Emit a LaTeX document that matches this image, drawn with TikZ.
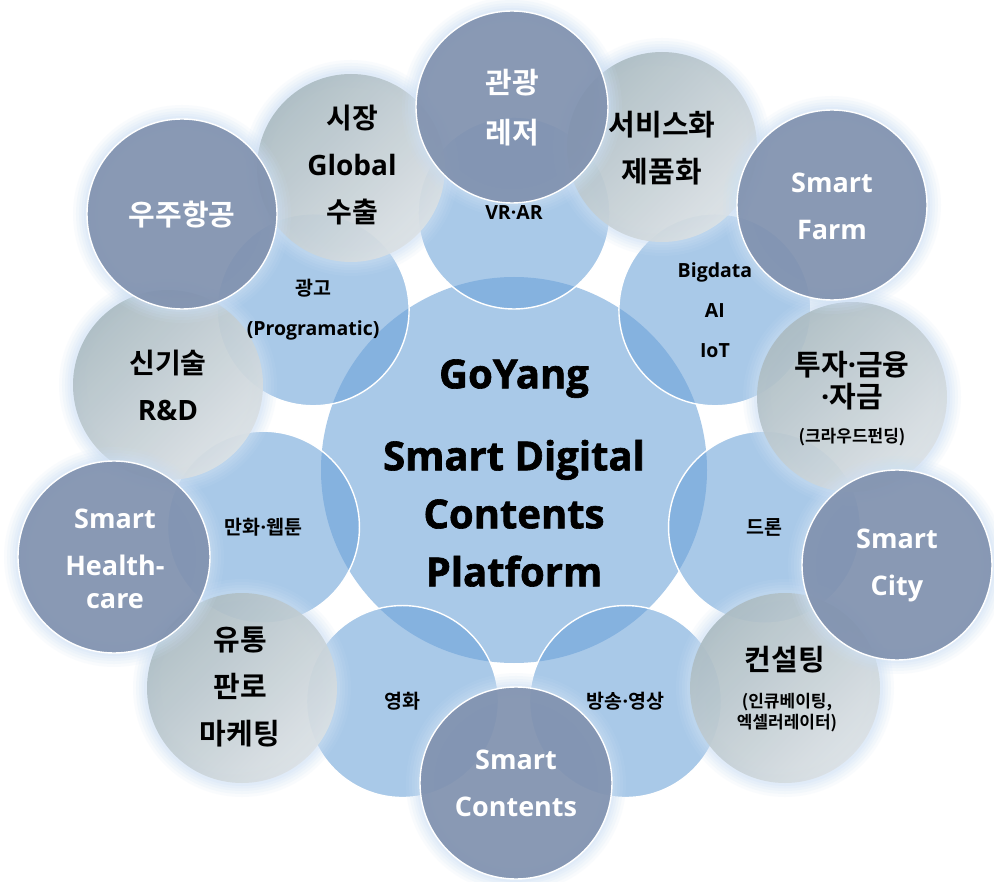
\documentclass[tikz,border=0pt]{standalone}
\usepackage{fontspec}
\setmainfont{Open Sans}
\newfontfamily\kr{Noto Sans CJK KR}[BoldFont={Noto Sans CJK KR Bold}]
\newfontfamily\heavy{Open Sans}[BoldFeatures={FakeBold=1.6}]
\newcommand\midpt{{\rmfamily\bfseries ·}}
\usetikzlibrary{calc}
\definecolor{hubblue}{RGB}{107,162,217}
\definecolor{slate}{RGB}{129,146,175}
\definecolor{mistdark}{RGB}{172,188,195}
\definecolor{mistlight}{RGB}{219,225,229}
\definecolor{halo}{RGB}{205,224,245}

\begin{document}
\begin{tikzpicture}[x=1pt,y=-1pt,
  glow/.style={preaction={draw=halo,draw opacity=.10,line width=28pt},
    preaction={draw=halo,draw opacity=.14,line width=22pt},
    preaction={draw=halo,draw opacity=.16,line width=16pt},
    preaction={draw=halo,draw opacity=.18,line width=11pt},
    preaction={draw=halo,draw opacity=.22,line width=6pt}},
  hub/.style={circle,inner sep=0pt,minimum size=386pt,fill=hubblue,fill opacity=.58},
  spoke/.style={circle,inner sep=0pt,minimum size=192pt,fill=hubblue,fill opacity=.58,
    draw=white,line width=1.4pt},
  mist/.style={circle,inner sep=0pt,glow,top color=mistdark,bottom color=mistlight,
    shading angle=45,fill opacity=.93},
  slatecircle/.style={circle,inner sep=0pt,glow,fill=slate,fill opacity=.93,
    draw=white,line width=1.4pt},
  hubtext/.style={align=center,font=\heavy\fontsize{40}{58}\selectfont\bfseries},
  spoketext/.style={align=center,font=\fontsize{19.5}{40}\selectfont\bfseries},
  mistext/.style={align=center,font=\fontsize{28}{47}\selectfont\bfseries},
  krmist/.style={mistext,font=\kr\fontsize{29}{47}\selectfont\bfseries},
  notetext/.style={align=center,font=\kr\fontsize{17}{21}\selectfont\bfseries},
  slatetext/.style={align=center,text=white,font=\fontsize{27}{47}\selectfont\bfseries},
  krslate/.style={slatetext,font=\kr\fontsize{29}{50}\selectfont\bfseries}]
  \fill[white] (0,0) rectangle (994,882);
  \useasboundingbox (0,0) rectangle (994,882);

  \node[hub] (hub) at (514,470) {};
  \foreach \name [count=\i from 0] in {vrar,bigdata,drone,broadcast,movie,webtoon,advert}
    \node[spoke] (\name) at ($(hub)+({90-\i*360/7}:257pt)$) {};

  \foreach \name/\px/\py/\r in {market/351/168/94,service/662/147/95,finance/852/397/95,
      consult/785/688/95,retail/242/688/95,rnd/168/385/95}
    \node[mist,minimum size=2*\r*1pt] (\name) at (\px,\py) {};
  \foreach \name/\px/\py/\r in {tour/512/107/96,farm/832/205/95,city/897/565/95,
      contents/516/783/96,health/114/557/96,space/182/214/95}
    \node[slatecircle,minimum size=2*\r*1pt] (\name) at (\px,\py) {};

  \node[hubtext] (title) at ($(hub)+(0,-3pt)$)
    {GoYang\\[24pt]Smart Digital\\Contents\\Platform};

  \foreach \name/\entry in {vrar/{VR·AR},bigdata/{Bigdata\\AI\\IoT},drone/{\kr 드론},
      broadcast/{{\kr 방송}\midpt{\kr 영상}},movie/{\kr 영화},
      webtoon/{{\kr 만화}\midpt{\kr 웹툰}},advert/{{\kr 광고}\\(Programatic)}}
    \node[spoketext] (\name-label) at (\name) {\entry};

  \node[mistext] (market-label) at (352,165) {{\kr 시장}\\Global\\{\kr 수출}};
  \node[krmist] (service-label) at (662,148) {서비스화\\제품화};
  \node[krmist,font=\kr\fontsize{29}{32}\selectfont\bfseries] (finance-label) at (852,381)
    {투자\midpt 금융\\\midpt 자금};
  \node[notetext] (finance-note) at (852,437) {(크라우드펀딩)};
  \node[krmist] (consult-label) at (785,660) {컨설팅};
  \node[notetext] (consult-note) at (787,713) {(인큐베이팅,\\엑셀러레이터)};
  \node[krmist] (retail-label) at (240,687) {유통\\판로\\마케팅};
  \node[mistext] (rnd-label) at (168,385) {{\kr 신기술}\\R\&D};

  \node[krslate] (tour-label) at (512,108) {관광\\레저};
  \node[slatetext] (farm-label) at (832,206) {Smart\\Farm};
  \node[slatetext] (city-label) at (897,565) {Smart\\City};
  \node[slatetext] (contents-label) at (516,783) {Smart\\Contents};
  \node[slatetext] (health-label) at (115,559) {Smart\\Health-\\[-14pt]care};
  \node[krslate] (space-label) at (182,215) {우주항공};
\end{tikzpicture}
\end{document}
